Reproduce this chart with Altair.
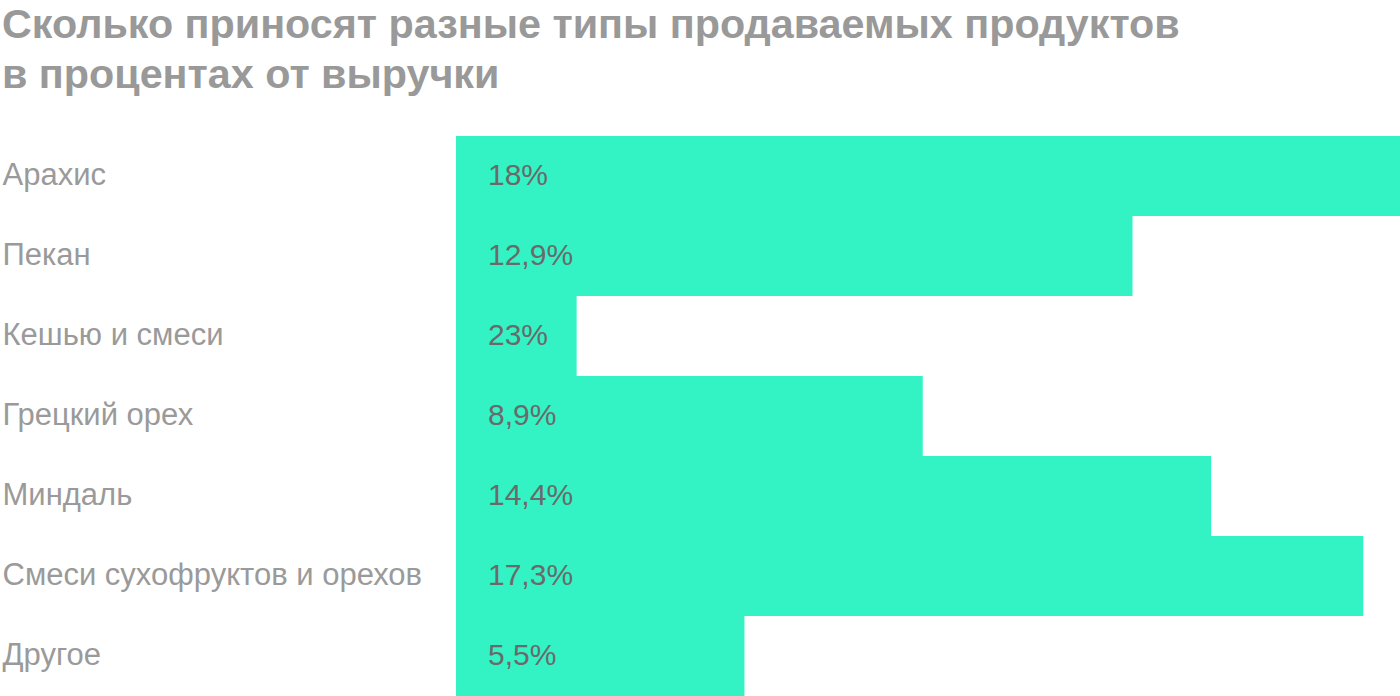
import altair as alt
import pandas as pd

categories = ["Арахис", "Пекан", "Кешью и смеси", "Грецкий орех", "Миндаль",
              "Смеси сухофруктов и орехов", "Другое"]
values = [18, 12.9, 2.3, 8.9, 14.4, 17.3, 5.5]
value_labels = ["18%", "12,9%", "23%", "8,9%", "14,4%", "17,3%", "5,5%"]

df = pd.DataFrame({"cat": categories, "val": values, "lbl": value_labels})

FONT = "Liberation Sans"

y = alt.Y("cat:N", sort=categories, title=None,
          scale=alt.Scale(paddingInner=0, paddingOuter=0),
          axis=alt.Axis(domain=False, ticks=False, labelAlign="left", labelPadding=454,
                        labelFont=FONT, labelFontSize=31, labelColor="#9a9a9a",
                        labelLimit=0))
x = alt.X("val:Q", title=None, axis=None, scale=alt.Scale(domain=[0, 18], nice=False))

bars = alt.Chart(df).mark_bar(color="#33F3C4", cornerRadius=0).encode(x=x, y=y)
texts = alt.Chart(df).mark_text(align="left", dx=32, font=FONT, fontSize=30,
                                color="#6a6a6a").encode(
    x=alt.value(0), y=alt.Y("cat:N", sort=categories), text="lbl:N")

chart = (bars + texts).properties(
    width=944, height=560,
    title=alt.Title(["Сколько приносят разные типы продаваемых продуктов", "в процентах от выручки"],
                    anchor="start", font=FONT, fontSize=41.3, fontWeight="bold",
                    color="#999999", lineHeight=50, offset=40),
    padding={"left": 456, "top": 136, "right": 0, "bottom": 0},
    autosize=alt.AutoSizeParams(type="none"),
).configure_view(stroke=None)

chart.save("out.html", embed_options={"renderer": "svg", "actions": False})
